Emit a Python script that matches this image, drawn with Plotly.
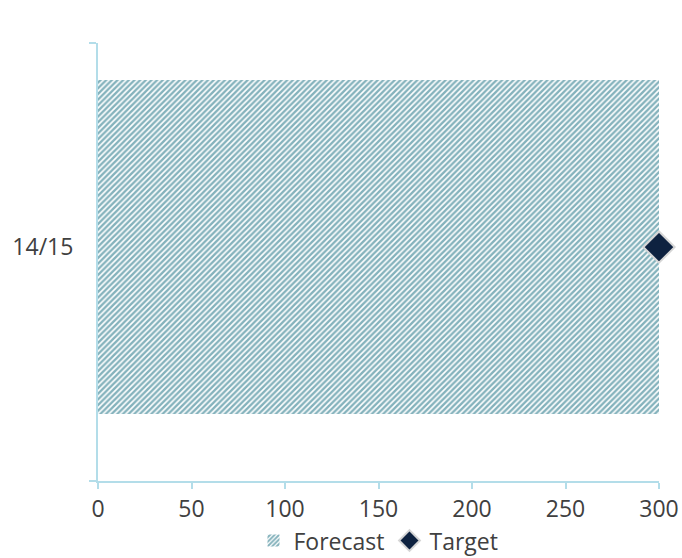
import plotly.graph_objects as go

# Season and values
seasons = ["14/15"]
forecast = [300]
target = [300]

axis_color = "#b3dde9"
text_color = "#404040"
font_family = "Open Sans, Lato, sans-serif"

# Numeric category positions so the band can sit slightly above the axis centre
pos = list(range(len(seasons)))
y_lo, y_hi = -0.534, 0.466

fig = go.Figure()

fig.add_trace(go.Bar(
    name="Forecast",
    x=forecast,
    y=pos,
    orientation="h",
    width=0.763,
    marker=dict(
        color="white",
        line=dict(width=0),
        pattern=dict(shape="/", fgcolor="#0a6579", bgcolor="white",
                     size=4, solidity=0.6),
    ),
))

fig.add_trace(go.Scatter(
    name="Target",
    x=target,
    y=pos,
    mode="markers",
    cliponaxis=False,
    marker=dict(symbol="diamond", size=24, color="#0e2240",
                line=dict(color="#d6d6d6", width=2)),
))

fig.update_layout(
    width=682,
    height=558,
    margin=dict(l=98, r=23, t=43, b=77, autoexpand=False),
    paper_bgcolor="white",
    plot_bgcolor="white",
    font=dict(family=font_family, size=23, color=text_color),
    showlegend=True,
    legend=dict(
        orientation="h",
        x=0.5, xanchor="center",
        y=-0.136, yanchor="middle",
        font=dict(size=23, color=text_color),
        itemwidth=30,
        tracegroupgap=0,
    ),
    bargap=0,
)

fig.update_xaxes(
    range=[0, 300],
    tickvals=[0, 50, 100, 150, 200, 250, 300],
    automargin=False,
    showgrid=False,
    zeroline=False,
    showline=True,
    linecolor=axis_color,
    linewidth=2,
    ticks="outside",
    ticklen=6,
    tickwidth=2,
    tickcolor=axis_color,
    tickfont=dict(size=23, color=text_color),
)

fig.update_yaxes(
    range=[y_lo, y_hi],
    tickvals=pos,
    ticktext=seasons,
    automargin=False,
    ticks="",
    showgrid=False,
    zeroline=False,
    showline=True,
    linecolor=axis_color,
    linewidth=2,
    ticklabelstandoff=18,
    tickfont=dict(size=23, color=text_color),
    minor=dict(tickvals=[y_lo, y_hi], ticks="outside", ticklen=7,
               tickwidth=2, tickcolor=axis_color, showgrid=False),
)

fig.write_html("out.html")
